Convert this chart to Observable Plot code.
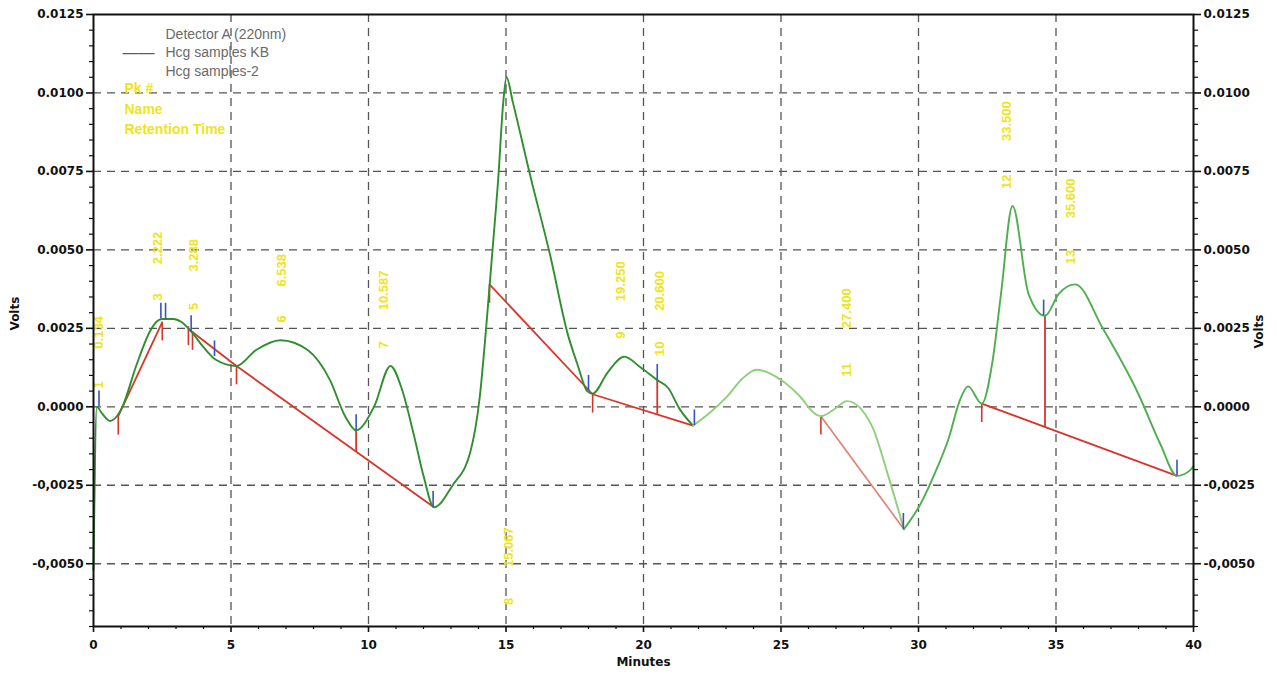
<!DOCTYPE html>
<html>
<head>
<meta charset="utf-8">
<script src="https://cdn.jsdelivr.net/npm/d3@7"></script>
<script src="https://cdn.jsdelivr.net/npm/@observablehq/plot@0.6"></script>
<style>
  html, body { margin: 0; padding: 0; background: #fff; }
  #chart { width: 1277px; height: 678px; overflow: hidden; }
</style>
</head>
<body>
<div id="chart"></div>
<script>
// ---- Detector trace (Minutes, Volts) ----
const traceMinutes = [0, 0.12, 0.3, 0.6, 0.85, 1.05, 1.55, 2.05, 2.3, 2.5, 2.9, 3.2, 3.55, 4.0, 4.45, 5.2, 5.9, 6.8, 7.8, 8.6, 9.15, 9.55, 10.2, 10.8, 11.2, 11.65, 12.0, 12.38, 13.06, 13.7, 14.05, 14.3, 14.5, 14.72, 14.9, 15.02, 15.25, 15.9, 16.6, 17.25, 17.6, 17.95, 18.15, 18.7, 19.3, 19.9, 20.5, 20.9, 21.3, 21.8, 22.4, 23.06, 23.6, 24.1, 24.99, 25.7, 26.2, 26.45, 26.9, 27.4, 28.3, 28.9, 29.47, 30.07, 30.7, 31.1, 31.5, 31.8, 32.3, 32.7, 33.0, 33.42, 34.0, 34.6, 35.1, 35.7, 36.7, 38.0, 38.8, 39.4, 39.9, 40];
const traceVolts = [-0.0052, 0.0, -0.0002, -0.00045, -0.0003, 0.0, 0.0013, 0.0024, 0.00272, 0.0028, 0.0028, 0.0027, 0.0024, 0.0019, 0.0015, 0.0013, 0.0018, 0.00212, 0.0018, 0.00085, -0.0003, -0.00075, 0.0, 0.0013, 0.0006, -0.0009, -0.0022, -0.0032, -0.0025, -0.00145, 0.00035, 0.00275, 0.0049, 0.0073, 0.0097, 0.0105, 0.0097, 0.0073, 0.00485, 0.0023, 0.00135, 0.0005, 0.00042, 0.0011, 0.0016, 0.00125, 0.00085, 0.0006, -0.00005, -0.0006, -0.0002, 0.00035, 0.0009, 0.00118, 0.00086, 0.00032, -0.0002, -0.0003, -0.0001, 0.00018, -0.0006, -0.0022, -0.0039, -0.0031, -0.0019, -0.001, 0.0002, 0.00065, 0.0001, 0.0015, 0.0036, 0.0064, 0.0036, 0.0029, 0.0036, 0.0039, 0.0025, 0.0004, -0.0012, -0.0022, -0.002, -0.0019];

// ---- Integration baselines ----
const baseStartMin = [0.9, 3.5, 5.2, 14.4, 18.15, 26.45, 32.3];
const baseStartV   = [-0.0003, 0.00245, 0.0013, 0.0039, 0.0004, -0.0003, 0.0001];
const baseEndMin   = [2.5, 5.2, 12.38, 18.15, 21.8, 29.47, 39.4];
const baseEndV     = [0.0027, 0.0013, -0.0032, 0.0004, -0.0006, -0.0039, -0.0022];

// ---- Drop lines (peak split) ----
const dropMin     = [9.55, 20.5, 34.6];
const dropTopV    = [-0.00075, 0.00085, 0.0029];
const dropBottomV = [-0.00143, -0.00024, -0.00065];

// ---- Peak start markers (red) and end markers (blue) ----
const redTickMin = [0.9, 2.5, 3.45, 3.6, 5.2, 14.4, 18.15, 26.45, 32.3];
const redTickV   = [-0.0003, 0.0027, 0.00255, 0.0024, 0.0013, 0.0039, 0.0004, -0.0003, 0.0001];
const blueTickMin = [0.2, 2.45, 2.62, 3.55, 4.4, 9.55, 12.35, 18.0, 20.5, 21.85, 29.45, 34.55, 39.4];
const blueTickV   = [0.0, 0.0028, 0.0028, 0.0024, 0.0016, -0.00075, -0.0032, 0.0005, 0.00085, -0.0006, -0.0039, 0.0029, -0.0022];

// ---- Peak labels ----
const peakMin   = [0.2, 2.35, 3.65, 6.86, 10.57, 15.1, 19.17, 20.6, 27.4, 33.2, 35.55];
const peakTime  = ["0.134", "2.222", "3.288", "6.538", "10.587", "15.067", "19.250", "20.600", "27.400", "33.500", "35.600"];
const peakNum   = ["1", "3", "5", "6", "7", "8", "9", "10", "11", "12", "13"];
const peakTimeV = [0.00237, 0.00506, 0.00483, 0.00435, 0.00371, -0.00447, 0.0040, 0.00369, 0.00314, 0.0091, 0.00664];
const peakNumV  = [0.0007, 0.0035, 0.0032, 0.0028, 0.00197, -0.0062, 0.00228, 0.00185, 0.00118, 0.00717, 0.00477];

// ---- Axes ----
const xTicks = [0, 5, 10, 15, 20, 25, 30, 35, 40];
const xTickLabels = ["0", "5", "10", "15", "20", "25", "30", "35", "40"];
const yTicks = [-0.005, -0.0025, 0, 0.0025, 0.005, 0.0075, 0.01, 0.0125];
const yTickLabels = ["-0,0050", "-0,0025", "0.0000", "0.0025", "0.0050", "0.0075", "0.0100", "0.0125"];
const xGrid = [5, 10, 15, 20, 25, 30, 35];
const yGrid = [-0.005, -0.0025, 0, 0.0025, 0.005, 0.0075, 0.01];
const legendTitle = "Detector A (220nm)";
const legendSeries = ["Hcg samples KB", "Hcg samples-2"];
const legendFields = ["Pk #", "Name", "Retention Time"];

// ---- build tables ----
const trace = traceMinutes.map((m, i) => ({m, v: traceVolts[i]}));
const seg1 = trace.filter(d => d.m <= 21.8);
const seg2 = trace.filter(d => d.m >= 21.8 && d.m <= 29.47);
const seg3 = trace.filter(d => d.m >= 29.47);
const baselines = baseStartMin.map((m, i) => ({x1: m, y1: baseStartV[i], x2: baseEndMin[i], y2: baseEndV[i], i}));
const drops = dropMin.map((m, i) => ({m, top: dropTopV[i], bottom: dropBottomV[i]}));
const redTicks = redTickMin.map((m, i) => ({m, v: redTickV[i]}));
const blueTicks = blueTickMin.map((m, i) => ({m, v: blueTickV[i]}));
const peaks = peakMin.map((m, i) => ({m, t: peakTime[i], n: peakNum[i], tv: peakTimeV[i], nv: peakNumV[i]}));
const xLab = new Map(xTicks.map((d, i) => [d, xTickLabels[i]]));
const yLab = new Map(yTicks.map((d, i) => [d, yTickLabels[i]]));
const xMinor = d3.range(0, 41, 1).filter(d => d % 5 !== 0);
const yMinor = d3.range(-14, 26, 1).filter(k => k % 5 !== 0).map(k => k * 0.0005);

const RED = "#d8352a", BLUE = "#3452c2", YEL = "#efe41a";
const axisFont = {fontSize: 12, fontWeight: "bold", fontFamily: "'DejaVu Sans', sans-serif", fill: "#111"};
const legendText = {frameAnchor: "top-left", textAnchor: "start", fontSize: 14, fill: "#6a6a6a"};
const fieldText = {frameAnchor: "top-left", textAnchor: "start", fontSize: 14, fontWeight: "bold", fill: YEL, dx: 31};

const chart = Plot.plot({
  width: 1277,
  height: 678,
  marginTop: 14,
  marginRight: 84,
  marginBottom: 52,
  marginLeft: 93,
  x: {domain: [0, 40]},
  y: {domain: [-0.007, 0.0125]},
  style: {fontFamily: "'Liberation Sans', Arial, sans-serif", background: "#fff", color: "#111", overflow: "visible"},
  marks: [
    Plot.gridX(xGrid, {stroke: "#555", strokeOpacity: 1, strokeWidth: 1.3, strokeDasharray: "8,6"}),
    Plot.gridY(yGrid, {stroke: "#555", strokeOpacity: 1, strokeWidth: 1.3, strokeDasharray: "8,6"}),

    // legend
    Plot.text([legendTitle], {text: d => d, dx: 72, dy: 15, ...legendText}),
    Plot.text(legendSeries, {text: d => d, dx: 72, dy: 33, filter: (d, i) => i === 0, ...legendText}),
    Plot.text(legendSeries, {text: d => d, dx: 72, dy: 52, filter: (d, i) => i === 1, ...legendText}),
    Plot.text(["——"], {text: d => d, frameAnchor: "top-left", dx: 29, dy: 32, textAnchor: "start", fontSize: 16, fill: "#4e6a4e"}),
    Plot.text(legendFields, {text: d => d, dy: 69, filter: (d, i) => i === 0, ...fieldText}),
    Plot.text(legendFields, {text: d => d, dy: 90, filter: (d, i) => i === 1, ...fieldText}),
    Plot.text(legendFields, {text: d => d, dy: 110, filter: (d, i) => i === 2, ...fieldText}),

    // peak labels
    Plot.text(peaks, {x: "m", y: "tv", text: "t", rotate: -90, fill: YEL, fontSize: 13, fontWeight: "bold"}),
    Plot.text(peaks, {x: "m", y: "nv", text: "n", rotate: -90, fill: YEL, fontSize: 13, fontWeight: "bold"}),

    // baselines and markers
    Plot.link(baselines.filter(d => d.i !== 5), {x1: "x1", y1: "y1", x2: "x2", y2: "y2", stroke: RED, strokeWidth: 1.8}),
    Plot.link(baselines.filter(d => d.i === 5), {x1: "x1", y1: "y1", x2: "x2", y2: "y2", stroke: "#e57c72", strokeWidth: 1.6}),
    Plot.ruleX(drops, {x: "m", y1: "top", y2: "bottom", stroke: RED, strokeWidth: 1.8}),
    Plot.ruleX(redTicks, {x: "m", y1: "v", y2: d => d.v - 0.0006, stroke: RED, strokeWidth: 1.6}),

    // trace
    Plot.line(seg1, {x: "m", y: "v", curve: "monotone-x", stroke: "#2f8f2f", strokeWidth: 1.9}),
    Plot.line(seg2, {x: "m", y: "v", curve: "monotone-x", stroke: "#8fcf7a", strokeWidth: 1.9}),
    Plot.line(seg3, {x: "m", y: "v", curve: "monotone-x", stroke: "#4fae4f", strokeWidth: 1.9}),

    Plot.ruleX(blueTicks, {x: "m", y1: "v", y2: d => d.v + 0.0005, stroke: BLUE, strokeWidth: 1.6}),

    // frame and axes
    Plot.frame({stroke: "#111", strokeWidth: 2}),
    Plot.axisX(xTicks, {anchor: "bottom", tickSize: 6, tickPadding: 8, tickFormat: d => xLab.get(d), label: null, strokeWidth: 1.6, ...axisFont}),
    Plot.axisX(xMinor, {anchor: "bottom", tickSize: 3, tickFormat: () => "", label: null, strokeWidth: 1.2}),
    Plot.axisY(yTicks, {anchor: "left", tickSize: 7, tickPadding: 3, tickFormat: d => yLab.get(d), label: null, strokeWidth: 1.6, ...axisFont}),
    Plot.axisY(yMinor, {anchor: "left", tickSize: 4, tickFormat: () => "", label: null, strokeWidth: 1.2}),
    Plot.axisY(yTicks, {anchor: "right", tickSize: 7, tickPadding: 3, tickFormat: d => yLab.get(d), label: null, strokeWidth: 1.6, ...axisFont}),
    Plot.axisY(yMinor, {anchor: "right", tickSize: 4, tickFormat: () => "", label: null, strokeWidth: 1.2}),

    // axis titles
    Plot.text(["Minutes"], {text: d => d, frameAnchor: "bottom", dy: 39, ...axisFont}),
    Plot.text(["Volts"], {text: d => d, frameAnchor: "left", dx: -78, dy: 10, rotate: -90, ...axisFont}),
    Plot.text(["Volts"], {text: d => d, frameAnchor: "right", dx: 66, dy: -6, rotate: -90, ...axisFont})
  ]
});
document.getElementById("chart").appendChild(chart);
</script>
</body>
</html>
